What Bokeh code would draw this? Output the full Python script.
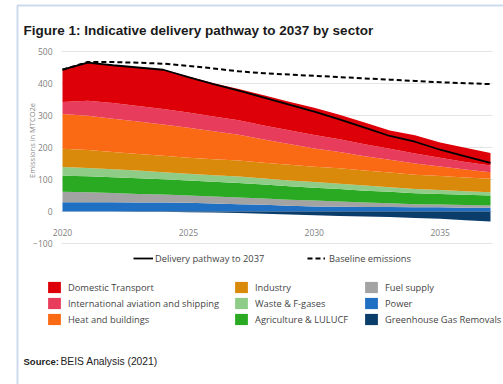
import math
from bokeh.plotting import figure
from bokeh.models import (ColumnDataSource, Legend, LegendItem, Label,
                          BoxAnnotation, FixedTicker, Range1d)
from bokeh.embed import file_html
from bokeh.resources import INLINE

# ---------------- data (MtCO2e) ----------------
years = list(range(2020, 2038))
domestic_transport = [101, 119, 118, 121, 124, 113, 104, 98, 94, 89, 85, 76, 68, 57, 57, 48, 44, 39]
intl_aviation_shipping = [37, 47, 49, 49, 48, 47, 46, 45, 44, 43, 42, 40, 37, 34, 31, 27, 24, 21]
heat_buildings = [109, 107, 104, 101, 98, 94, 88, 81, 73, 65, 57, 51, 45, 40, 35, 30, 25, 21]
industry = [57, 56, 54, 52, 51, 50, 50, 50, 49, 49, 48, 48, 47, 46, 45, 44, 43, 42]
waste_fgases = [27, 26, 25, 24, 22, 21, 20, 20, 19, 18, 18, 17, 16, 14, 13, 12, 11, 10]
agriculture_lulucf = [50, 50, 49, 49, 48, 47, 46, 45, 43, 42, 40, 39, 37, 36, 34, 33, 32, 31]
fuel_supply = [33, 31, 29, 27, 25, 23, 22, 21, 20, 19, 18, 16, 14, 12, 10, 9, 8, 7]
power = [29, 29, 29, 28, 28, 27, 25, 23, 21, 18, 16, 15, 14, 14, 13, 13, 12, 12]
ghg_removals = [0, 0, 0, -1, -1, -2, -3, -5, -7, -9, -12, -14, -16, -17, -20, -23, -27, -31]
delivery_pathway = [443, 465, 457, 450, 443, 420, 398, 378, 356, 334, 312, 288, 262, 236, 218, 193, 172, 152]
baseline_emissions = [443, 467, 467, 465, 462, 455, 447, 438, 432, 428, 424, 420, 416, 412, 408, 404, 401, 398]

sector_names = ["Domestic Transport", "International aviation and shipping",
                "Heat and buildings", "Industry", "Waste & F-gases",
                "Agriculture & LULUCF", "Fuel supply", "Power",
                "Greenhouse Gas Removals"]
sector_colors = ["#de0008", "#e83c5c", "#fa6a14", "#d98a0a", "#8fcc88",
                 "#2aaa22", "#a3a3a3", "#1f6fc2", "#0b3d6b"]
x_ticks = [2020, 2025, 2030, 2035]
y_ticks = [-100, 0, 100, 200, 300, 400, 500]

# ---------------- layout constants ----------------
W, H = 503, 384
PX_2020, PX_2037 = 62.0, 490.0        # canvas x of first / last year
PY_500, PY_M100 = 51.0, 243.0         # canvas y of 500 / -100
ppx = (PX_2037 - PX_2020) / 17.0
ppy = (PY_M100 - PY_500) / 600.0
x_start = 2020 - PX_2020 / ppx
x_end = 2037 + (W - PX_2037) / ppx
y_end = 500 + PY_500 / ppy
y_start = -100 - (H - PY_M100) / ppy
grid_x0 = 2020 - 1.0 / ppx
grid_x1 = 2037 + 2.0 / ppx


def sx(px):
    return px


def sy(py):
    return H - py


src = ColumnDataSource(dict(
    year=years, dom=domestic_transport, intl=intl_aviation_shipping,
    heat=heat_buildings, ind=industry, waste=waste_fgases,
    agri=agriculture_lulucf, fuel=fuel_supply, power=power,
    ghg=ghg_removals, path=delivery_pathway, base=baseline_emissions))

p = figure(width=W, height=H, output_backend="svg", toolbar_location=None,
           x_range=Range1d(x_start, x_end), y_range=Range1d(y_start, y_end),
           min_border=0)
p.outline_line_color = None
p.background_fill_color = "white"
p.border_fill_color = "white"
p.xgrid.grid_line_color = None
p.ygrid.grid_line_color = None

# horizontal grid lines at the y ticks
p.segment(x0=grid_x0, x1=grid_x1, y0=y_ticks, y1=y_ticks,
          line_color="#e4e4e4", line_width=1)

# stacked positive sectors, bottom to top
stack_keys = ["power", "fuel", "agri", "waste", "ind", "heat", "intl", "dom"]
stack_colors = [sector_colors[7], sector_colors[6], sector_colors[5], sector_colors[4],
                sector_colors[3], sector_colors[2], sector_colors[1], sector_colors[0]]
stack_rs = p.varea_stack(stackers=stack_keys, x="year", color=stack_colors, source=src)
r_ghg = p.varea(x="year", y1=0, y2="ghg", fill_color=sector_colors[8], source=src)

r_base = p.line(x="year", y="base", source=src, line_color="black",
                line_width=2, line_dash="5 3")
r_path = p.line(x="year", y="path", source=src, line_color="black", line_width=1.8)

# ---------------- axes (fixed inside the canvas) ----------------
p.yaxis.ticker = FixedTicker(ticks=y_ticks)
p.yaxis.fixed_location = 2020
p.yaxis.axis_line_color = None
p.yaxis.major_tick_line_color = None
p.yaxis.minor_tick_line_color = None
p.yaxis.major_tick_out = 0
p.yaxis.major_label_text_font = "Open Sans"
p.yaxis.major_label_text_font_size = "8.5px"
p.yaxis.major_label_text_color = "#808080"
p.yaxis.major_label_standoff = 10

p.xaxis.ticker = FixedTicker(ticks=x_ticks)
p.xaxis.fixed_location = -50
p.xaxis.axis_line_color = None
p.xaxis.major_tick_line_color = None
p.xaxis.minor_tick_line_color = None
p.xaxis.major_tick_out = 0
p.xaxis.major_label_standoff = 1
p.xaxis.major_label_text_font = "Open Sans"
p.xaxis.major_label_text_font_size = "8.5px"
p.xaxis.major_label_text_color = "#808080"

p.add_layout(Label(x=sx(31), y=sy(140), x_units="screen", y_units="screen",
                   text="Emissions in MTCO2e", angle=math.pi / 2,
                   text_font="Open Sans", text_font_size="7.5px",
                   text_color="#888888", text_align="center",
                   text_baseline="middle"))

# ---------------- legends ----------------
renderer_by_name = {
    sector_names[0]: stack_rs[7], sector_names[1]: stack_rs[6],
    sector_names[2]: stack_rs[5], sector_names[3]: stack_rs[4],
    sector_names[4]: stack_rs[3], sector_names[5]: stack_rs[2],
    sector_names[6]: stack_rs[1], sector_names[7]: stack_rs[0],
    sector_names[8]: r_ghg,
}


def make_legend(names, renderers, left_px, top_px, gw, gh, standoff, n_rows):
    items = [LegendItem(label=n, renderers=[r]) for n, r in zip(names, renderers)]
    height = n_rows * gh + (n_rows - 1) * 2
    leg = Legend(items=items, location=(sx(left_px), sy(top_px + height)),
                 orientation="vertical", glyph_width=gw, glyph_height=gh,
                 label_height=gh, label_standoff=standoff, spacing=2,
                 padding=0, margin=0, border_line_color=None,
                 background_fill_alpha=0, label_text_font="Open Sans",
                 label_text_font_size="9.3px", label_text_color="#444444")
    p.add_layout(leg, "center")
    return leg


col_lefts = [46, 233, 363]
for c in range(3):
    names = sector_names[c * 3:(c + 1) * 3]
    make_legend(names, [renderer_by_name[n] for n in names], col_lefts[c], 280, 16, 14, 6, 3)

make_legend(["Delivery pathway to 2037"], [r_path], 133, 251, 20, 14, 2, 1)
make_legend(["Baseline emissions"], [r_base], 307, 251, 18, 14, 4, 1)

# ---------------- texts ----------------
p.add_layout(Label(x=sx(23), y=sy(29.5), x_units="screen", y_units="screen",
                   text="Figure 1: Indicative delivery pathway to 2037 by sector",
                   text_font="Liberation Sans", text_font_style="bold",
                   text_font_size="13.5px", text_color="#1a1a1a",
                   text_baseline="alphabetic"))
p.add_layout(Label(x=sx(23), y=sy(361), x_units="screen", y_units="screen",
                   text="Source:", text_font="Liberation Sans", text_font_style="bold",
                   text_font_size="9.5px", text_color="#222222",
                   text_baseline="alphabetic"))
p.add_layout(Label(x=sx(60), y=sy(361), x_units="screen", y_units="screen",
                   text="BEIS Analysis (2021)", text_font="Liberation Sans",
                   text_font_size="10.3px", text_color="#222222",
                   text_baseline="alphabetic"))

# blue frame around the figure box (left and top edges)
p.add_layout(BoxAnnotation(left=sx(17), right=sx(900), top=sy(5), bottom=sy(900),
                           left_units="screen", right_units="screen",
                           top_units="screen", bottom_units="screen",
                           fill_alpha=0, line_color="#5a84c8", line_width=2))

open("out.html", "w").write(file_html(p, INLINE))
